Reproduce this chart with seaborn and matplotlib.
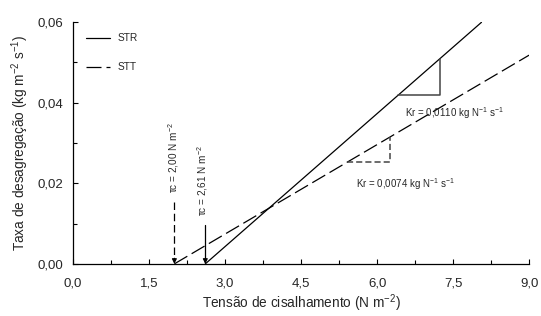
import numpy as np
import pandas as pd
import matplotlib
matplotlib.use("Agg")
import matplotlib.pyplot as plt
import seaborn as sns
from matplotlib.ticker import MultipleLocator, FuncFormatter

# ── data ──────────────────────────────────────────────────────────────────────
series   = ["STR", "STT"]
tau_c    = [2.61, 2.00]          # critical shear stress (N m-2)
kr       = [0.0110, 0.0074]      # erodibility (kg N-1 s-1)
x_end    = [8.06, 9.0]           # where each fitted line stops
kr_text  = ["Kr = 0,0110 kg N$^{-1}$ s$^{-1}$", "Kr = 0,0074 kg N$^{-1}$ s$^{-1}$"]
tau_text = ["\u03c4c = 2,61 N m$^{-2}$", "\u03c4c = 2,00 N m$^{-2}$"]
tri_x    = [(6.42, 7.24), (5.41, 6.26)]   # slope triangle extents

xticks = [0.0, 1.5, 3.0, 4.5, 6.0, 7.5, 9.0]
yticks = [0.00, 0.02, 0.04, 0.06]

rows = []
for s, t, k, xe in zip(series, tau_c, kr, x_end):
    for x in (t, xe):
        rows.append({"x": x, "y": k * (x - t), "serie": s})
df = pd.DataFrame(rows)

# ── style ─────────────────────────────────────────────────────────────────────
sns.set_style("ticks")
plt.rcParams["font.family"] = ["Liberation Sans", "DejaVu Sans"]
plt.rcParams["mathtext.fontset"] = "custom"
plt.rcParams["mathtext.rm"] = "Liberation Sans"
plt.rcParams["mathtext.it"] = "Liberation Sans:italic"

fig, ax = plt.subplots(figsize=(5.41, 3.16), dpi=100)
fig.subplots_adjust(left=0.135, right=0.978, top=0.93, bottom=0.165)

sns.lineplot(data=df, x="x", y="y", style="serie", style_order=series,
             dashes={"STR": "", "STT": (12, 4)}, color="black", lw=0.9,
             ax=ax, legend=False)

# legend drawn by hand (line + label)
leg_y = [0.0561, 0.0489]
for s, ly, ls in zip(series, leg_y, ["-", (0, (12, 4))]):
    ax.plot([0.26, 0.73], [ly, ly], color="black", lw=0.9, ls=ls)
    ax.text(0.88, ly, s, fontsize=7.3, va="center", ha="left")

# slope triangles
tri_col = "#444444"
for (xa, xb), t, k, ls in zip(tri_x, tau_c, kr, ["-", (0, (4, 2))]):
    ya, yb = k * (xa - t), k * (xb - t)
    ax.plot([xa, xb, xb], [ya, ya, yb], color=tri_col, lw=1.1, ls=ls)

ax.text(6.55, 0.0374, kr_text[0], fontsize=7, va="center", ha="left")
ax.text(5.58, 0.0198, kr_text[1], fontsize=7, va="center", ha="left")

# critical shear stress arrows
arr_top = [0.0097, 0.0154]
txt_y   = [0.0206, 0.0263]
txt_x   = [2.56, 1.98]
for t, at, tx, ty, lbl, ls in zip(tau_c, arr_top, txt_x, txt_y, tau_text,
                                  ["-", (0, (6, 3))]):
    ax.plot([t, t], [at, 0.0012], color="black", lw=0.9, ls=ls)
    ax.annotate("", xy=(t, 0.0), xytext=(t, 0.0014),
                arrowprops=dict(arrowstyle="-|>", color="black", lw=0.8,
                                mutation_scale=7, shrinkA=0, shrinkB=0))
    ax.text(tx, ty, lbl, rotation=90, fontsize=7.2, ha="center", va="center")

# axes
ax.set_xlim(0, 9.0)
ax.set_ylim(0, 0.06)
ax.set_xticks(xticks)
ax.set_yticks(yticks)
ax.xaxis.set_minor_locator(MultipleLocator(0.75))
ax.yaxis.set_minor_locator(MultipleLocator(0.01))
ax.xaxis.set_major_formatter(FuncFormatter(lambda v, p: f"{v:.1f}".replace(".", ",")))
ax.yaxis.set_major_formatter(FuncFormatter(lambda v, p: f"{v:.2f}".replace(".", ",")))
ax.tick_params(which="both", direction="in", labelsize=9.5, width=0.8, color="black")
ax.tick_params(which="major", length=3.5)
ax.tick_params(which="minor", length=3)
ax.tick_params(axis="x", pad=10)
ax.tick_params(axis="y", pad=7)
for sp in ["left", "bottom"]:
    ax.spines[sp].set_linewidth(0.9)
    ax.spines[sp].set_color("black")
sns.despine(ax=ax)

ax.set_xlabel("Tensão de cisalhamento (N m$^{-2}$)", fontsize=9.8, labelpad=2)
ax.set_ylabel("Taxa de desagregação (kg m$^{-2}$ s$^{-1}$)", fontsize=9.8, labelpad=5)

plt.savefig("out.png", dpi=100)
